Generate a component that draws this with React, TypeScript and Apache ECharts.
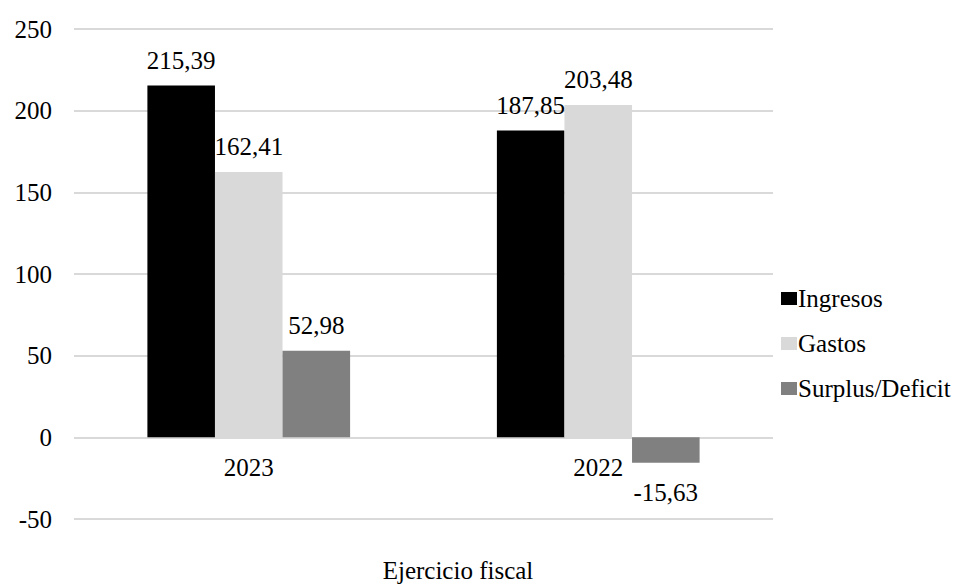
import React, { useEffect, useRef } from "react";
import * as echarts from "echarts";

const categories = ["2023", "2022"];
const ingresos = [215.39, 187.85];
const gastos = [162.41, 203.48];
const surplus = [52.98, -15.63];
const seriesNames = ["Ingresos", "Gastos", "Surplus/Deficit"];
const colors = ["#000000", "#d9d9d9", "#808080"];
const axisTitle = "Ejercicio fiscal";

const FONT = "Times New Roman, Liberation Serif, serif";
const FS = 25;

export default function App() {
  const ref = useRef<HTMLDivElement>(null);
  useEffect(() => {
    document.body.style.margin = "0";
    if (!ref.current) return;
    const chart = echarts.init(ref.current, null, { renderer: "svg" });
    const fmt = (p: any) => String(p.value).replace(".", ",");
    const mk = (name: string, data: number[], color: string) => ({
      name,
      type: "bar",
      data: data.map((v) => ({
        value: v,
        label: v < 0 ? { position: "bottom", distance: 17 } : { position: "top", distance: 13 },
      })),
      itemStyle: { color },
      barGap: "0%",
      barCategoryGap: "42%",
      label: {
        show: true,
        formatter: fmt,
        color: "#000",
        fontFamily: FONT,
        fontSize: FS,
      },
    });
    chart.setOption({
      animation: false,
      backgroundColor: "#fff",
      textStyle: { fontFamily: FONT },
      grid: { left: 74, right: 189, top: 29, bottom: 65, containLabel: false },
      legend: {
        orient: "vertical",
        left: 776,
        top: 281,
        itemWidth: 16,
        itemHeight: 13,
        itemGap: 20,
        icon: "rect",
        textStyle: { fontFamily: FONT, fontSize: FS, color: "#000", padding: [0, 0, 0, -4] },
        data: seriesNames,
      },
      xAxis: {
        type: "category",
        data: categories,
        axisLine: { show: false },
        axisTick: { show: false },
        axisLabel: { color: "#000", fontFamily: FONT, fontSize: FS, margin: -64 },
      },
      yAxis: {
        type: "value",
        min: -50,
        max: 250,
        interval: 50,
        axisLine: { show: false },
        axisTick: { show: false },
        splitLine: { lineStyle: { color: "#d9d9d9", width: 2 } },
        axisLabel: { color: "#000", fontFamily: FONT, fontSize: FS, margin: 22 },
      },
      graphic: [
        {
          type: "text",
          x: 458,
          y: 570,
          style: {
            text: axisTitle,
            fontFamily: FONT,
            fontSize: FS,
            fill: "#000",
            textAlign: "center",
            textVerticalAlign: "middle",
          },
        },
      ],
      series: [
        mk(seriesNames[0], ingresos, colors[0]),
        mk(seriesNames[1], gastos, colors[1]),
        mk(seriesNames[2], surplus, colors[2]),
      ],
    });
    return () => chart.dispose();
  }, []);
  return <div ref={ref} style={{ width: 962, height: 584 }} />;
}
